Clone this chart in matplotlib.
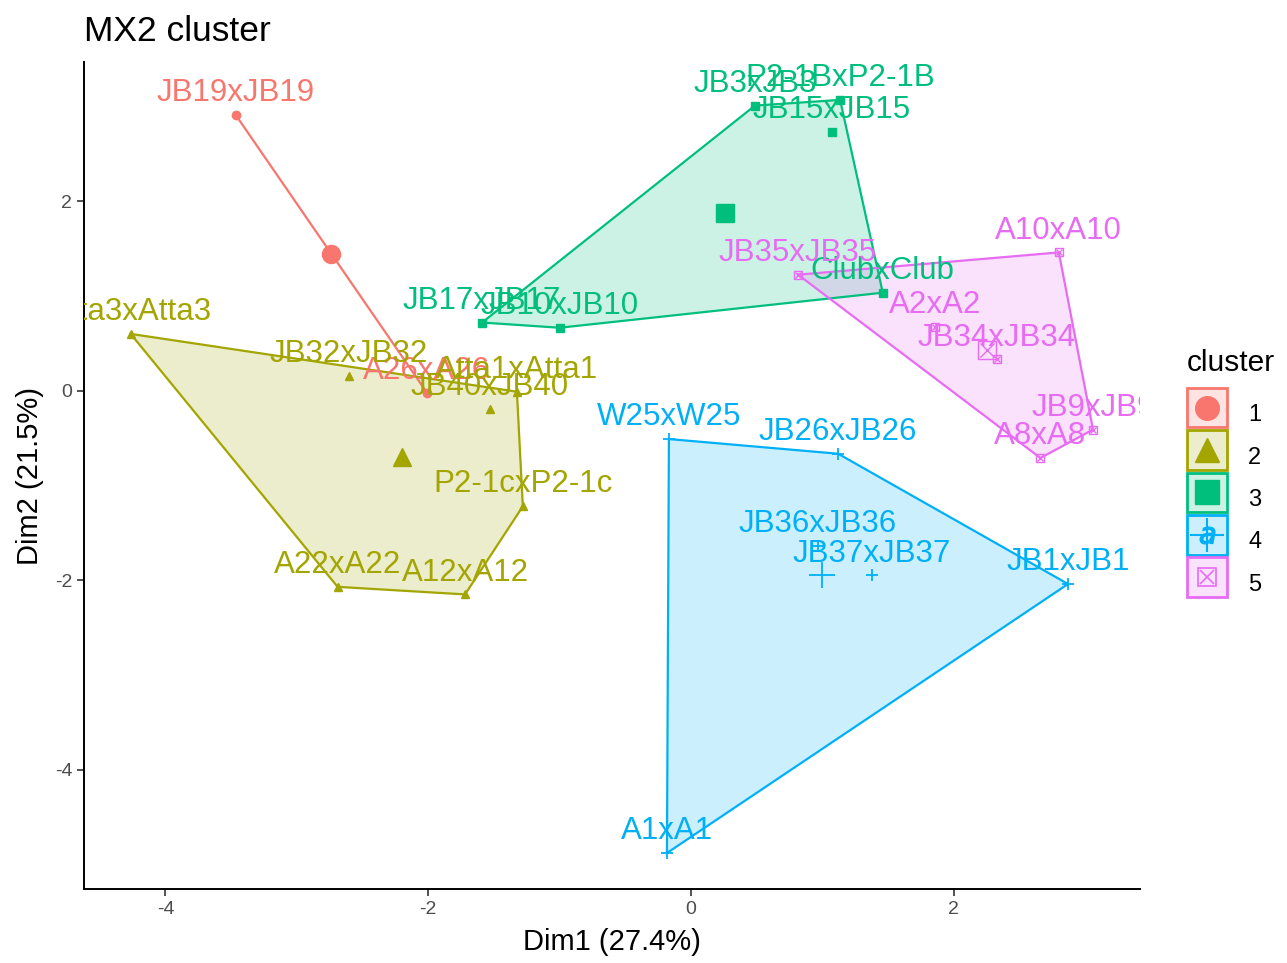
import numpy as np
import matplotlib
matplotlib.use('Agg')
import matplotlib.pyplot as plt
from matplotlib.patches import Patch, Rectangle
from matplotlib.lines import Line2D
from matplotlib.legend_handler import HandlerTuple, HandlerPatch

plt.rcParams['font.family'] = ['Liberation Sans', 'DejaVu Sans']
plt.rcParams['axes.unicode_minus'] = False

# 개체 이름, 좌표, 클러스터 번호
names = ['JB19xJB19', 'A26xA26',
         'Atta3xAtta3', 'JB32xJB32', 'Atta1xAtta1', 'JB40xJB40', 'P2-1cxP2-1c', 'A12xA12', 'A22xA22',
         'JB3xJB3', 'P2-1BxP2-1B', 'JB15xJB15', 'JB17xJB17', 'JB10xJB10', 'ClubxClub',
         'W25xW25', 'JB26xJB26', 'JB36xJB36', 'JB37xJB37', 'JB1xJB1', 'A1xA1',
         'JB35xJB35', 'A10xA10', 'A2xA2', 'JB34xJB34', 'JB9xJB9', 'A8xA8']
dim1 = [-3.465, -2.01,
        -4.265, -2.605, -1.325, -1.53, -1.28, -1.72, -2.69,
        0.487, 1.135, 1.074, -1.59, -1.0, 1.46,
        -0.168, 1.12, 0.967, 1.378, 2.87, -0.183,
        0.815, 2.80, 1.858, 2.33, 3.06, 2.66]
dim2 = [2.91, -0.02,
        0.60, 0.16, -0.01, -0.19, -1.22, -2.15, -2.07,
        3.01, 3.07, 2.735, 0.72, 0.665, 1.035,
        -0.51, -0.665, -1.64, -1.95, -2.04, -4.88,
        1.225, 1.46, 0.675, 0.33, -0.41, -0.71]
cluster = [1, 1,
           2, 2, 2, 2, 2, 2, 2,
           3, 3, 3, 3, 3, 3,
           4, 4, 4, 4, 4, 4,
           5, 5, 5, 5, 5, 5]

colors = {1: '#F8766D', 2: '#A3A500', 3: '#00BF7D', 4: '#00B0F6', 5: '#E76BF3'}
markers = {1: 'o', 2: '^', 3: 's', 4: '+', 5: 's'}

dim1 = np.array(dim1)
dim2 = np.array(dim2)
cluster = np.array(cluster)


def hull(pts):
    # monotone chain convex hull
    pts = sorted(map(tuple, pts))
    if len(pts) < 3:
        return pts

    def cross(o, a, b):
        return (a[0] - o[0]) * (b[1] - o[1]) - (a[1] - o[1]) * (b[0] - o[0])
    lower, upper = [], []
    for p in pts:
        while len(lower) >= 2 and cross(lower[-2], lower[-1], p) <= 0:
            lower.pop()
        lower.append(p)
    for p in reversed(pts):
        while len(upper) >= 2 and cross(upper[-2], upper[-1], p) <= 0:
            upper.pop()
        upper.append(p)
    return lower[:-1] + upper[:-1]


fig = plt.figure(figsize=(12.87, 9.63), dpi=100)
ax = fig.add_axes([0.0653, 0.0768, 0.8207, 0.8588])


def draw_marker(x, y, k, size):
    c = colors[k]
    if k == 5:
        ax.plot(x, y, linestyle='none', marker='s', markersize=size, markerfacecolor='none',
                markeredgecolor=c, markeredgewidth=1.0, zorder=4)
        ax.plot(x, y, linestyle='none', marker='x', markersize=size * 0.75,
                markeredgecolor=c, markeredgewidth=1.0, zorder=4)
    elif k == 4:
        ax.plot(x, y, linestyle='none', marker='+', markersize=size * 1.4,
                markeredgecolor=c, markeredgewidth=1.3, zorder=4)
    else:
        ax.plot(x, y, linestyle='none', marker=markers[k], markersize=size,
                color=c, zorder=4)


for k in range(1, 6):
    m = cluster == k
    xs, ys = dim1[m], dim2[m]
    c = colors[k]
    h = np.array(hull(np.column_stack([xs, ys])))
    if len(h) >= 3:
        ax.fill(h[:, 0], h[:, 1], facecolor=c, alpha=0.2, edgecolor='none', zorder=1)
        hc = np.vstack([h, h[:1]])
        ax.plot(hc[:, 0], hc[:, 1], color=c, lw=1.6, zorder=2)
    else:
        ax.plot(h[:, 0], h[:, 1], color=c, lw=1.6, zorder=2)
    draw_marker(xs, ys, k, 6)
    draw_marker([xs.mean()], [ys.mean()], k, 13)

for nm, x, y, k in zip(names, dim1, dim2, cluster):
    ax.annotate(nm, (x, y), xytext=(0, 10), textcoords='offset points',
                ha='center', va='baseline', fontsize=22.5, color=colors[k],
                zorder=5, annotation_clip=False, clip_on=True)

ax.set_xlim(-4.62, 3.42)
ax.set_ylim(-5.26, 3.47)
ax.set_xticks([-4, -2, 0, 2])
ax.set_yticks([-4, -2, 0, 2])
ax.spines['top'].set_visible(False)
ax.spines['right'].set_visible(False)
ax.spines['left'].set_linewidth(1.4)
ax.spines['bottom'].set_linewidth(1.4)
ax.tick_params(labelsize=14, labelcolor='#4D4D4D', length=5, width=1.2, color='#333333')
ax.set_xlabel('Dim1 (27.4%)', fontsize=21, labelpad=7)
ax.set_ylabel('Dim2 (21.5%)', fontsize=21, labelpad=8)
ax.set_title('MX2 cluster', fontsize=25.5, loc='left', pad=15, x=0.0)

handles = []
for k in range(1, 6):
    c = colors[k]
    box = Patch(facecolor=matplotlib.colors.to_rgba(c, 0.2), edgecolor=c, linewidth=2)
    if k == 5:
        mk = (Line2D([], [], ls='none', marker='s', markersize=13, mfc='none', mec=c, mew=1.2),
              Line2D([], [], ls='none', marker='x', markersize=10, mec=c, mew=1.2))
        handles.append((box,) + mk)
    elif k == 4:
        txt = Line2D([], [], ls='none', marker='$a$', markersize=12, color=c)
        pl = Line2D([], [], ls='none', marker='+', markersize=24, mec=c, mew=1.5)
        handles.append((box, txt, pl))
    else:
        mk = Line2D([], [], ls='none', marker=markers[k], markersize=17, color=c)
        handles.append((box, mk))


def key_box(legend, orig_handle, xdescent, ydescent, width, height, fontsize):
    # 마커와 같은 중심에 상자 놓기
    return Rectangle((-xdescent, -ydescent / 2), width, height)


leg = fig.legend(handles, ['1', '2', '3', '4', '5'],
                 handler_map={tuple: HandlerTuple(ndivide=1),
                              Patch: HandlerPatch(patch_func=key_box)},
                 loc='center left', bbox_to_anchor=(0.922, 0.4823),
                 frameon=False, fontsize=17,
                 handlelength=1.7, handleheight=2.2, handletextpad=0.9,
                 labelspacing=0.12, borderaxespad=0, borderpad=0)
fig.text(1187 / 1287, 1 - 363 / 963, 'cluster', fontsize=21.5, ha='left', va='center')

fig.savefig('out.png', dpi=100)
